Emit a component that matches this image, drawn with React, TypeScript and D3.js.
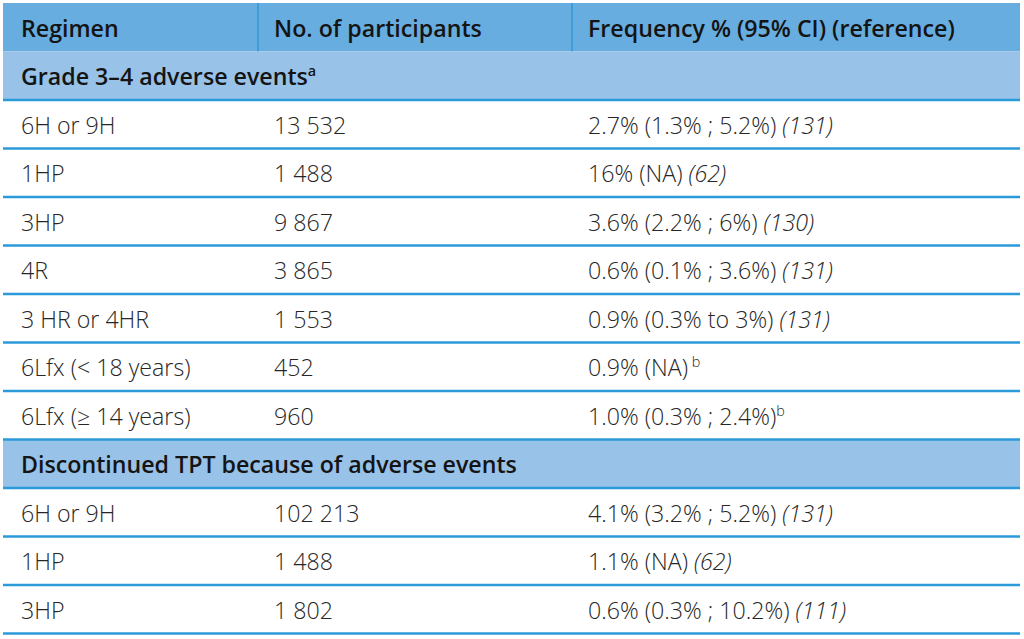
import React from "react";
import * as d3 from "d3";

const columns = ["Regimen", "No. of participants", "Frequency % (95% CI) (reference)"];

const section1 = "Grade 3–4 adverse events";
const section1Note = "a";
const regimens1 = ["6H or 9H", "1HP", "3HP", "4R", "3 HR or 4HR", "6Lfx (< 18 years)", "6Lfx (≥ 14 years)"];
const participants1 = ["13 532", "1 488", "9 867", "3 865", "1 553", "452", "960"];
const frequency1 = ["2.7% (1.3% ; 5.2%)", "16% (NA)", "3.6% (2.2% ; 6%)", "0.6% (0.1% ; 3.6%)", "0.9% (0.3% to 3%)", "0.9% (NA)", "1.0% (0.3% ; 2.4%)"];
const refs1 = ["(131)", "(62)", "(130)", "(131)", "(131)", "", ""];
const notes1 = ["", "", "", "", "", "b", "b"];

const section2 = "Discontinued TPT because of adverse events";
const regimens2 = ["6H or 9H", "1HP", "3HP"];
const participants2 = ["102 213", "1 488", "1 802"];
const frequency2 = ["4.1% (3.2% ; 5.2%)", "1.1% (NA)", "0.6% (0.3% ; 10.2%)"];
const refs2 = ["(131)", "(62)", "(111)"];
const notes2 = ["", "", ""];

type Row =
  | { kind: "header" }
  | { kind: "section"; label: string; note: string }
  | { kind: "data"; regimen: string; n: string; freq: string; ref: string; note: string };

export default function App() {
  const W = 1024, H = 639;
  const rows: Row[] = [{ kind: "header" }];
  rows.push({ kind: "section", label: section1, note: section1Note });
  regimens1.forEach((r, i) => rows.push({ kind: "data", regimen: r, n: participants1[i], freq: frequency1[i], ref: refs1[i], note: notes1[i] }));
  rows.push({ kind: "section", label: section2, note: "" });
  regimens2.forEach((r, i) => rows.push({ kind: "data", regimen: r, n: participants2[i], freq: frequency2[i], ref: refs2[i], note: notes2[i] }));

  const top = 3, rowH = 48.5;
  const y = d3.scaleLinear().domain([0, rows.length]).range([top, top + rows.length * rowH]);
  const colEdges = [3, 258, 572, 1020];
  const pad = 16;
  const font = "'Open Sans', 'Noto Sans', sans-serif";
  const fs = 23.2;
  const headerBg = "#68addf";
  const sectionBg = "#98c2e7";
  const lineCol = "#2b9ad9";
  const textDark = "#141414";
  const textData = "#262626";
  const dy = "0.4em";

  return (
    <svg width={W} height={H} style={{ position: "absolute", left: 0, top: 0 }} fontFamily={font}>
      <rect x={0} y={0} width={W} height={H} fill="#ffffff" />
      {rows.map((row, i) => {
        const y0 = y(i), y1 = y(i + 1), cy = (y0 + y1) / 2;
        if (row.kind === "header") {
          return (
            <g key={i}>
              <rect x={colEdges[0]} y={y0} width={colEdges[3] - colEdges[0]} height={y1 - y0} fill={headerBg} />
              {[1, 2].map((c) => (
                <line key={c} x1={colEdges[c]} x2={colEdges[c]} y1={y0} y2={y1} stroke={lineCol} strokeWidth={1.5} />
              ))}
              {columns.map((c, j) => (
                <text key={j} x={colEdges[j] + pad + (j === 0 ? 2 : 0)} y={cy} dy={dy} fontSize={fs} fontWeight={600} fill={textDark}>
                  {c}
                </text>
              ))}
            </g>
          );
        }
        if (row.kind === "section") {
          return (
            <g key={i}>
              <rect x={colEdges[0]} y={y0} width={colEdges[3] - colEdges[0]} height={y1 - y0} fill={sectionBg} />
              <text x={colEdges[0] + pad + 2} y={cy} dy={dy} fontSize={fs} fontWeight={600} fill={textDark}>
                {row.label}
                {row.note && (
                  <tspan dy="-0.6em" fontSize={fs * 0.62}>{row.note}</tspan>
                )}
              </text>
            </g>
          );
        }
        return (
          <g key={i} fill={textData} fontSize={fs} fontWeight={300}>
            <text x={colEdges[0] + pad + 2} y={cy} dy={dy}>{row.regimen}</text>
            <text x={colEdges[1] + pad} y={cy} dy={dy}>{row.n}</text>
            <text x={colEdges[2] + pad} y={cy} dy={dy}>
              {row.freq}
              {row.ref && <tspan fontStyle="italic">{" " + row.ref}</tspan>}
              {row.note && (
                <tspan dy="-0.6em" fontSize={fs * 0.62}>{(row.freq.endsWith("(NA)") ? " " : "") + row.note}</tspan>
              )}
            </text>
          </g>
        );
      })}
      {rows.map((row, i) => {
        if (i < 2) return null;
        const yy = y(i);
        return <line key={"l" + i} x1={colEdges[0]} x2={colEdges[3]} y1={yy} y2={yy} stroke={lineCol} strokeWidth={2.5} />;
      })}
      <line x1={colEdges[0]} x2={colEdges[3]} y1={y(rows.length)} y2={y(rows.length)} stroke={lineCol} strokeWidth={2.5} />
    </svg>
  );
}
